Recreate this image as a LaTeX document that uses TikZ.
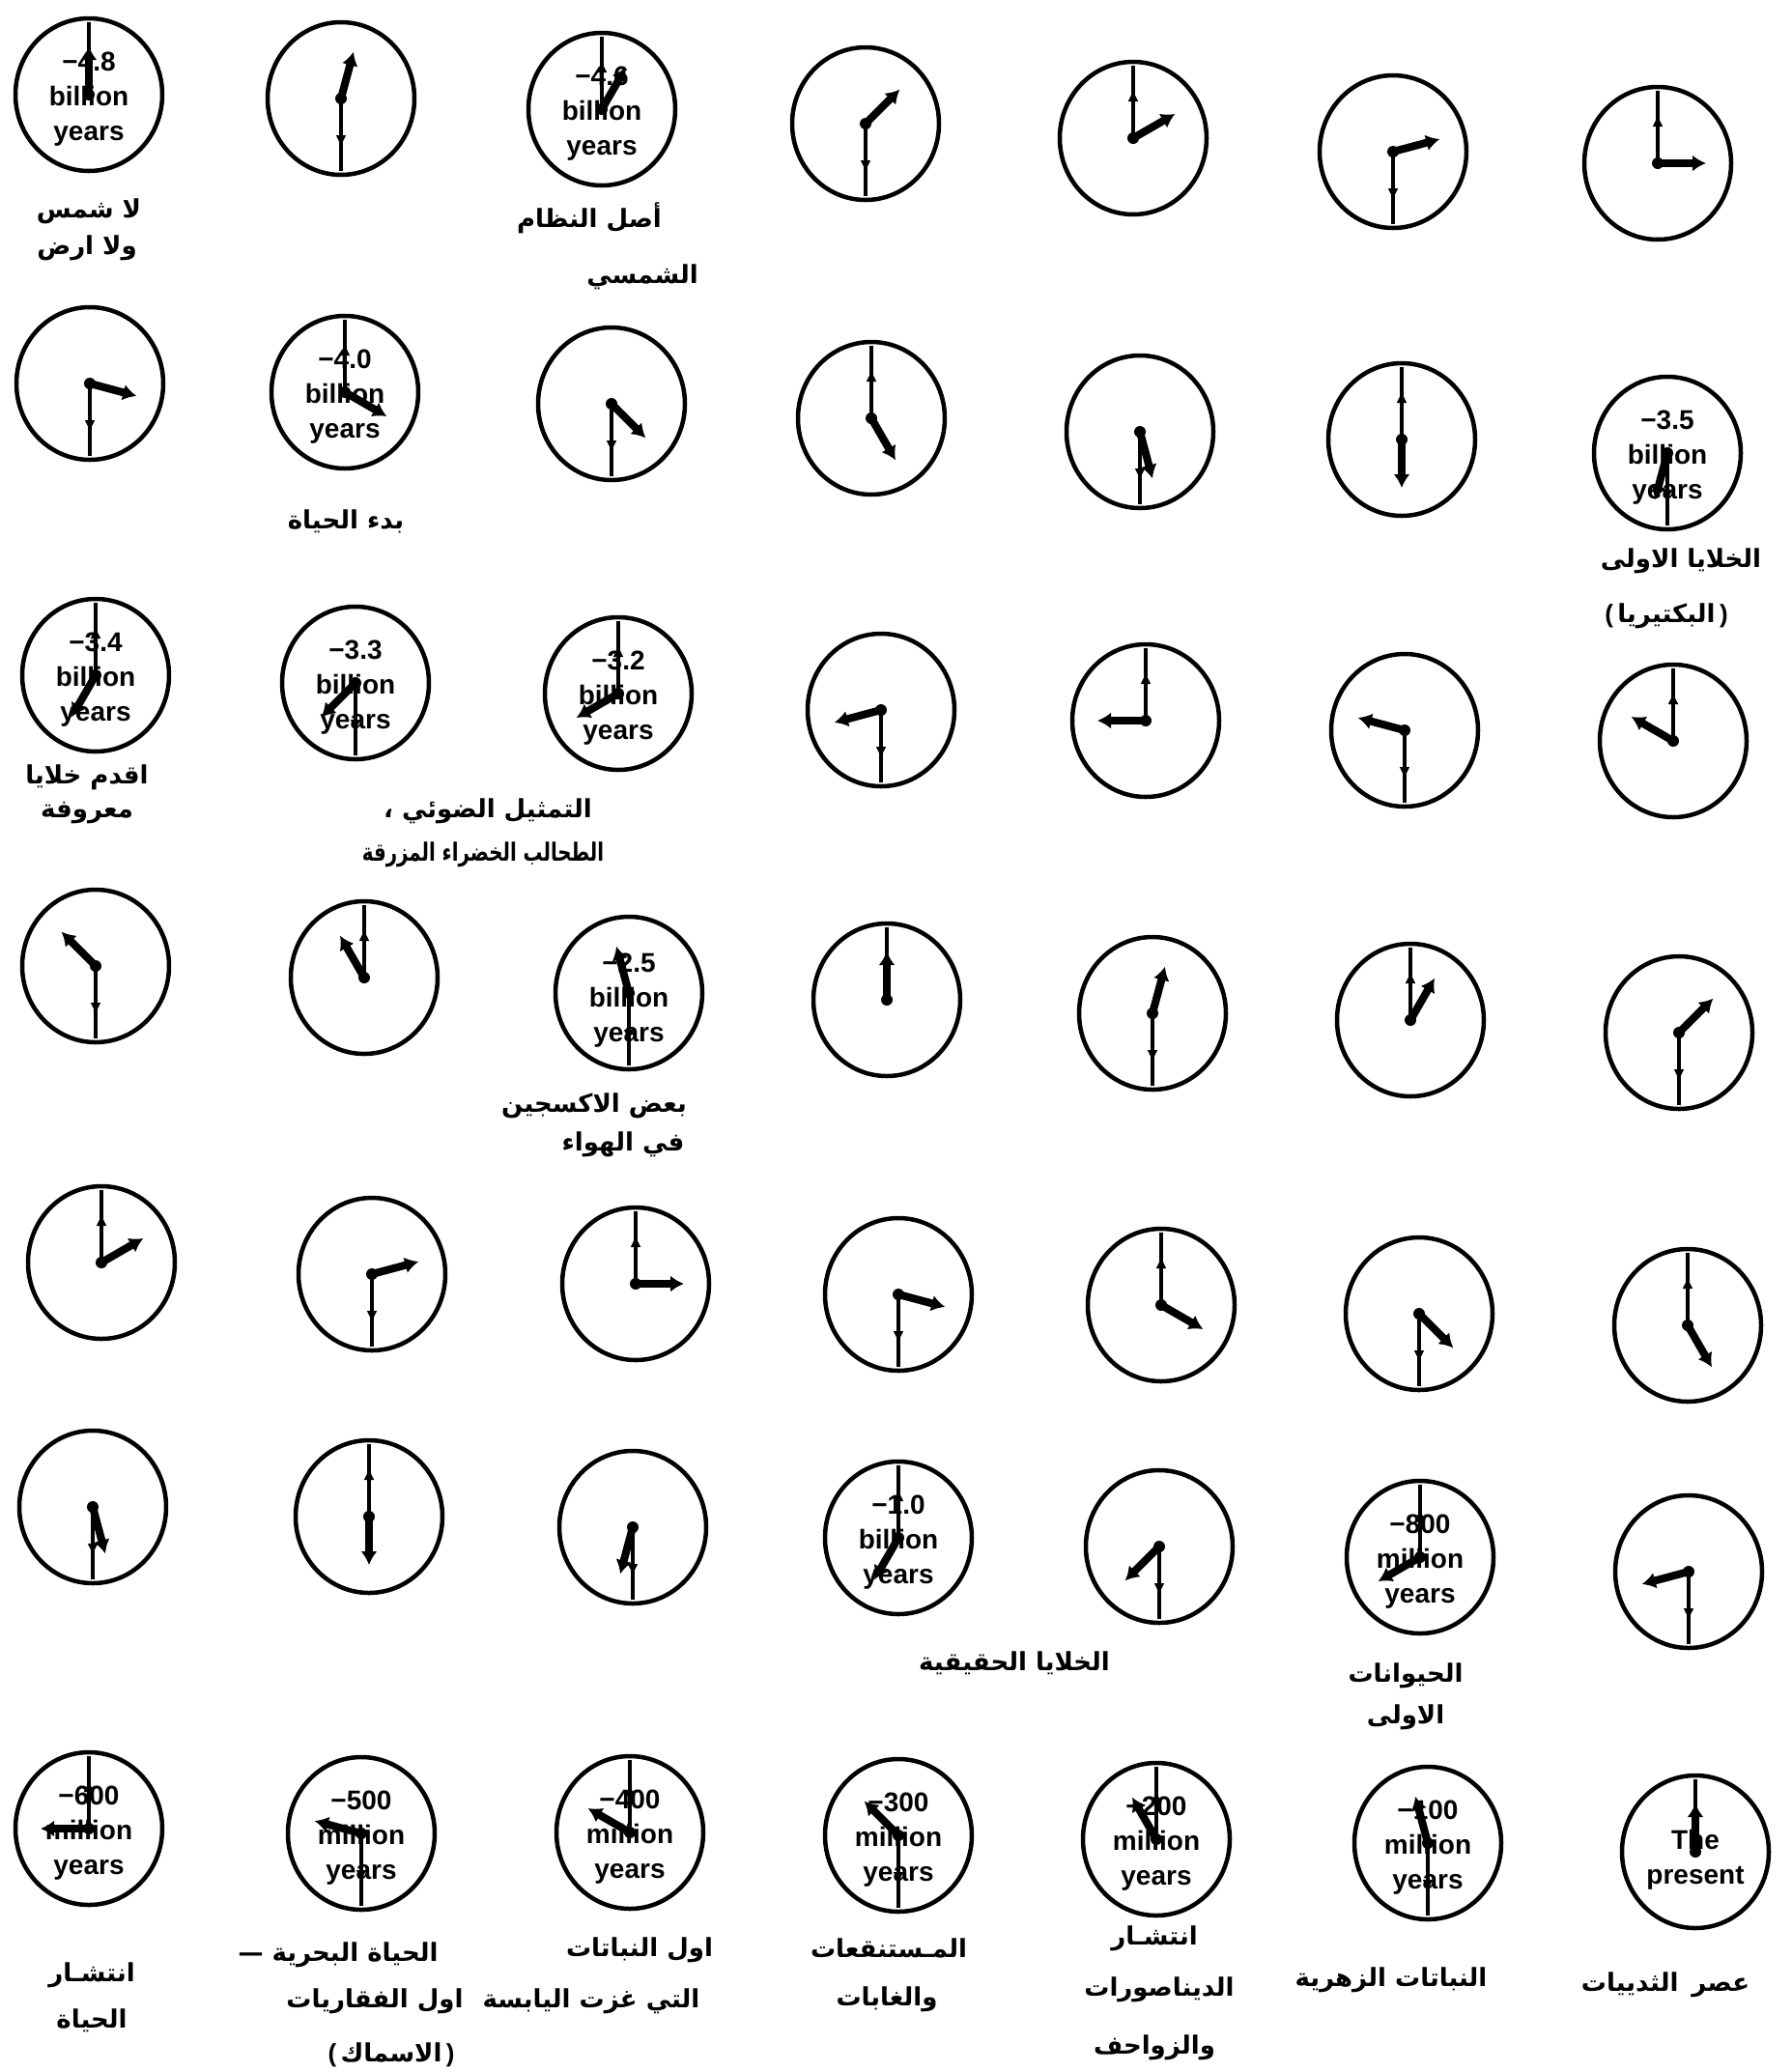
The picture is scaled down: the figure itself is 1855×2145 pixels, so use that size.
\documentclass[tikz,border=0pt]{standalone}
\usepackage{fontspec}
\usetikzlibrary{shapes.geometric,arrows.meta,decorations.markings,calc}
\TeXXeTstate=1
\newfontfamily\arabicfont[Script=Arabic]{DejaVu Sans}
\newfontfamily\clockfont{Liberation Sans}
\newcommand{\rl}[1]{\beginR #1\endR}
\newcommand{\lp}{{\clockfont\bfseries(}}
\newcommand{\rp}{{\clockfont\bfseries)}}
\begin{document}
\begin{tikzpicture}[x=1pt,y=-1pt,
  clock/.style={ellipse, draw, line width=4.5pt, minimum width=152pt, minimum height=158pt, inner sep=0pt},
  ctext/.style={font=\clockfont\bfseries\fontsize{28}{36}\selectfont, align=center, inner sep=0pt},
  lab/.style={font=\arabicfont\bfseries\fontsize{26}{30}\selectfont, inner sep=0pt},
  minhand/.style={line width=4.2pt, decoration={markings, mark=at position 0.68 with {\arrow{Latex[length=13pt,width=11pt]}}}, postaction={decorate}},
  hourhand/.style={line width=8pt, -{Latex[length=14pt,width=17pt]}},
]
\useasboundingbox[fill=white] (0,0) rectangle (1855,2145);

% clocks: x/y/index
\foreach \x/\y/\i [count=\n] in {
  92/98/0, 353/102/1, 623/113/2, 896/128/3, 1173/143/4, 1442/157/5, 1716/169/6,
  93/397/7, 357/406/8, 633/418/9, 902/433/10, 1180/447/11, 1451/455/12, 1726/469/13,
  99/699/14, 368/707/15, 640/718/16, 912/735/17, 1186/746/18, 1454/756/19, 1732/767/20,
  99/1000/21, 377/1012/22, 651/1028/23, 918/1035/24, 1193/1049/25, 1460/1056/26, 1738/1069/27,
  105/1307/28, 385/1319/29, 658/1329/30, 930/1340/31, 1202/1351/32, 1469/1360/33, 1747/1372/34,
  96/1560/35, 382/1570/36, 655/1581/37, 930/1592/38, 1200/1601/39, 1470/1612/40, 1748/1627/41,
  92/1893/42, 374/1898/43, 652/1897/44, 930/1900/45, 1197/1904/46, 1478/1908/47, 1755/1917/48}
{
  \node[clock] (c\n) at (\x,\y) {};
}

% texts inside clocks
\node[ctext] (t1)  at ($(c1)+(0,5)$)  {−4.8\\billion\\years};
\node[ctext] (t3)  at ($(c3)+(0,5)$)  {−4.6\\billion\\years};
\node[ctext] (t9)  at ($(c9)+(0,5)$)  {−4.0\\billion\\years};
\node[ctext] (t14) at ($(c14)+(0,5)$) {−3.5\\billion\\years};
\node[ctext] (t15) at ($(c15)+(0,5)$) {−3.4\\billion\\years};
\node[ctext] (t16) at ($(c16)+(0,5)$) {−3.3\\billion\\years};
\node[ctext] (t17) at ($(c17)+(0,5)$) {−3.2\\billion\\years};
\node[ctext] (t24) at ($(c24)+(0,8)$) {−2.5\\billion\\years};
\node[ctext] (t39) at ($(c39)+(0,5)$) {−1.0\\billion\\years};
\node[ctext] (t41) at ($(c41)+(0,5)$) {−800\\million\\years};
\node[ctext] (t43) at ($(c43)+(0,5)$) {−600\\million\\years};
\node[ctext] (t44) at ($(c44)+(0,5)$) {−500\\million\\years};
\node[ctext] (t45) at ($(c45)+(0,5)$) {−400\\million\\years};
\node[ctext] (t46) at ($(c46)+(0,5)$) {−300\\million\\years};
\node[ctext] (t47) at ($(c47)+(0,5)$) {−200\\million\\years};
\node[ctext] (t48) at ($(c48)+(0,5)$) {−100\\million\\years};
\node[ctext] (t49) at ($(c49)+(0,8)$) {The\\present};

% hands
\foreach \i [count=\n] in {0,...,48} {
  \pgfmathtruncatemacro\ha{\i*15-90}
  \pgfmathtruncatemacro\ma{ifthenelse(mod(\i,2)==0,-90,90)}
  \draw[minhand] (c\n.center) -- ++(\ma:75);
  \draw[hourhand] (c\n.center) -- ++(\ha:50);
  \fill (c\n.center) circle (6pt);
}

% Arabic labels
\node[lab] (la1) at (92,219)  {\rl{لا شمس}};
\node[lab] (la2) at (90,257)  {\rl{ولا ارض}};
\node[lab] (lb1) at (610,226) {\rl{أصل النظام}};
\node[lab] (lb2) at (665,287) {\rl{الشمسي}};
\node[lab] (lc)  at (358,540) {\rl{بدء الحياة}};
\node[lab] (ld1) at (1740,581) {\rl{الخلايا الاولى}};
\node[lab] (ld2) at (1725,638) {\lp\,\rl{البكتيريا}\,\rp};
\node[lab] (le1) at (90,805)  {\rl{اقدم خلايا}};
\node[lab] (le2) at (90,842)  {\rl{معروفة}};
\node[lab] (lf1) at (505,840) {\rl{التمثيل الضوئي ،}};
\node[lab] (lf2) at (500,885) {\scalebox{0.76}[1]{\rl{الطحالب الخضراء المزرقة}}};
\node[lab] (lg1) at (615,1145) {\rl{بعض الاكسجين}};
\node[lab] (lg2) at (645,1185) {\rl{في الهواء}};
\node[lab] (lh)  at (1050,1722) {\rl{الخلايا الحقيقية}};
\node[lab] (li1) at (1455,1735) {\rl{الحيوانات}};
\node[lab] (li2) at (1455,1778) {\rl{الاولى}};
\node[lab] (lj1) at (95,2045) {\rl{انتشـار}};
\node[lab] (lj2) at (95,2092) {\rl{الحياة}};
\node[lab] (lk1) at (350,2024) {\rl{الحياة البحرية —}};
\node[lab] (lk2) at (388,2072) {\rl{اول الفقاريات}};
\node[lab] (lk3) at (405,2127) {\lp\,\rl{الاسماك}\,\rp};
\node[lab] (ll1) at (662,2019) {\rl{اول النباتات}};
\node[lab] (ll2) at (612,2072) {\rl{التي غزت اليابسة}};
\node[lab] (lm1) at (920,2017) {\rl{المـستنقعات}};
\node[lab] (lm2) at (918,2070) {\rl{والغابات}};
\node[lab] (ln1) at (1195,2007) {\rl{انتشـار}};
\node[lab] (ln2) at (1200,2060) {\rl{الديناصورات}};
\node[lab] (ln3) at (1195,2120) {\rl{والزواحف}};
\node[lab] (lo)  at (1440,2050) {\rl{النباتات الزهرية}};
\node[lab] (lp)  at (1724,2055) {\rl{عصر\hspace{14pt}الثدييات}};
\end{tikzpicture}
\end{document}
